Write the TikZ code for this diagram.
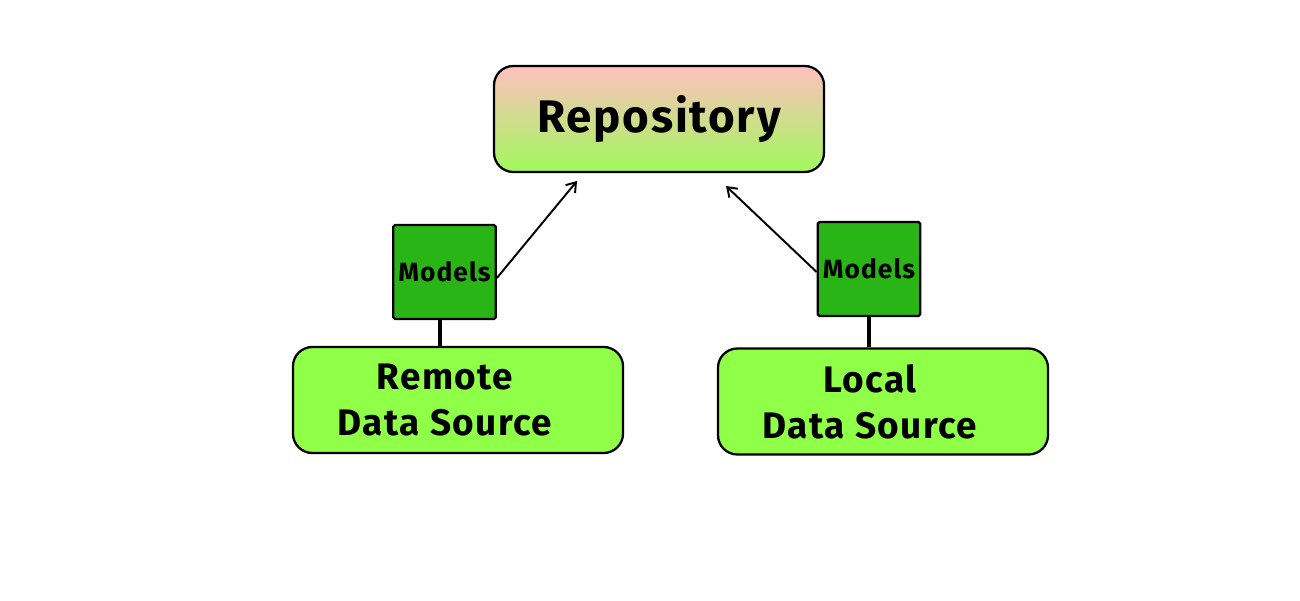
\documentclass[tikz,border=0pt]{standalone}
\usepackage{fontspec}
\usepackage{tikz}
\usetikzlibrary{arrows.meta,calc,positioning}
\newfontfamily\dinfont[LetterSpace=4.0]{Fira Sans}
\definecolor{repoTop}{HTML}{FFC0C0}
\definecolor{repoMid}{HTML}{E8D3A8}
\definecolor{repoBot}{HTML}{A0F95A}
\definecolor{srcFill}{HTML}{90FF48}
\definecolor{modelFill}{HTML}{2AB516}

\begin{document}
\begin{tikzpicture}[x=1cm,y=1cm,>=Latex,font=\dinfont\bfseries]
  \tikzset{
    block/.style={draw=black,line width=1.3pt,rounded corners=11pt,minimum width=6.6cm,minimum height=2.12cm,align=center,inner sep=0pt},
    srctext/.style={align=center,xshift=-.26cm,font=\dinfont\bfseries\fontsize{21}{26}\selectfont},
    model/.style={draw=black,line width=1.3pt,fill=modelFill,rounded corners=1pt,minimum width=2.05cm,minimum height=1.88cm,inner sep=0pt,font=\dinfont\bfseries\fontsize{15}{18}\selectfont},
    tie/.style={line width=2.4pt},
    flow/.style={line width=1.1pt,-{Straight Barb[length=5pt,width=7pt]}}
  }
  \useasboundingbox (0,0) rectangle (26,12);
  \node[block,top color=repoTop,middle color=repoMid,bottom color=repoBot,font=\dinfont\bfseries\fontsize{26}{30}\selectfont] (repo) at (13.18,9.62) {Repository};
  \node[block,fill=srcFill,label={[srctext]center:Remote\\Data Source}] (remote) at (9.16,4.00) {};
  \node[block,fill=srcFill,label={[srctext]center:Local\\Data Source}] (local) at (17.66,3.97) {};
  \node[model] (modelsL) at (8.89,6.56) {Models};
  \node[model] (modelsR) at (17.38,6.62) {Models};
  \draw[tie] ([xshift=-.09cm]modelsL.south) -- ([xshift=-.09cm]modelsL.south |- remote.north);
  \draw[tie] (modelsR.south) -- (modelsR.south |- local.north);
  \coordinate (tipL) at (11.54,8.38);
  \coordinate (tipR) at (14.52,8.28);
  \draw[flow] ([yshift=-.12cm]modelsL.east) -- (tipL);
  \draw[flow] ([yshift=-.06cm]modelsR.west) -- (tipR);
\end{tikzpicture}
\end{document}
